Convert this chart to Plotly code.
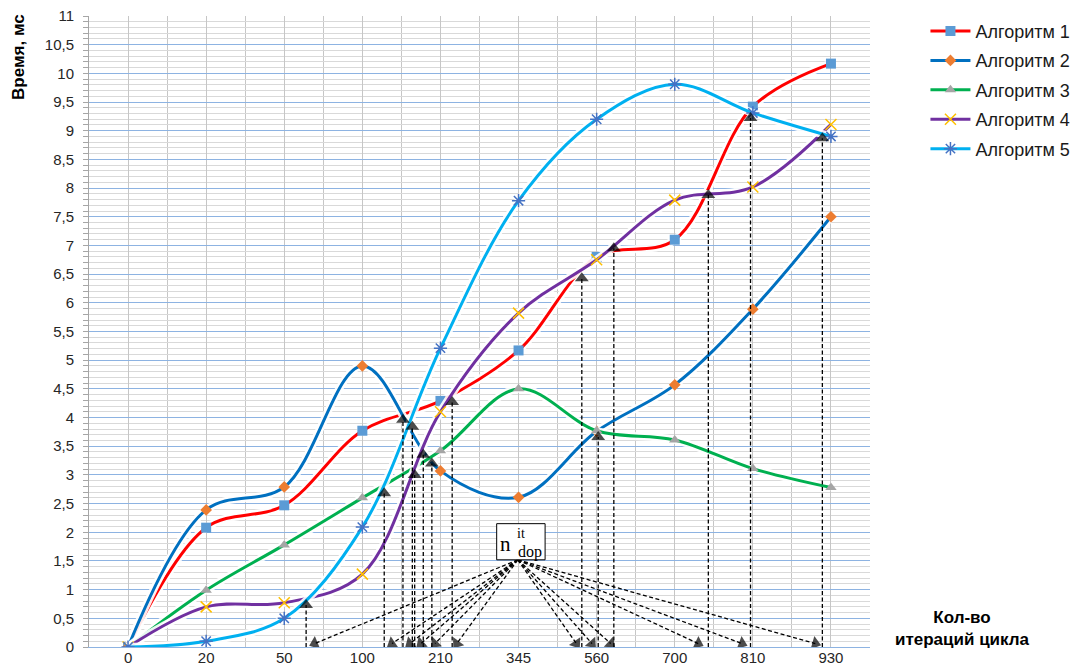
import math
import plotly.graph_objects as go

# ---------------- data ----------------
categories = ["0", "20", "50", "100", "210", "345", "560", "700", "810", "930"]
alg1 = [0, 2.08, 2.47, 3.77, 4.29, 5.17, 6.80, 7.10, 9.42, 10.17]
alg2 = [0, 2.39, 2.79, 4.90, 3.07, 2.61, 3.76, 4.57, 5.89, 7.50]
alg3 = [0, 0.99, 1.78, 2.60, 3.42, 4.50, 3.77, 3.61, 3.11, 2.78]
alg4 = [0, 0.70, 0.77, 1.27, 4.10, 5.82, 6.75, 7.79, 8.02, 9.11]
alg5 = [0, 0.10, 0.50, 2.09, 5.21, 7.78, 9.20, 9.81, 9.31, 8.90]
names = ["Алгоритм 1", "Алгоритм 2", "Алгоритм 3", "Алгоритм 4", "Алгоритм 5"]

y_tick_vals = [0, 0.5, 1, 1.5, 2, 2.5, 3, 3.5, 4, 4.5, 5, 5.5, 6, 6.5, 7, 7.5, 8, 8.5, 9, 9.5, 10, 10.5, 11]
y_tick_text = ["0", "0,5", "1", "1,5", "2", "2,5", "3", "3,5", "4", "4,5", "5", "5,5", "6", "6,5",
               "7", "7,5", "8", "8,5", "9", "9,5", "10", "10,5", "11"]

# intersection points (x in category units, y in ms) marked with vertical dashed arrows
cross_x = [2.28, 3.28, 3.52, 3.64, 3.67, 3.78, 3.89, 4.15, 5.81, 6.02, 6.22, 7.43, 7.97, 8.89]
cross_y = [0.73, 2.68, 3.96, 3.84, 3.00, 3.35, 3.20, 4.27, 6.43, 3.66, 6.95, 7.88, 9.22, 8.87]

# targets on the axis of the arrows drawn from the n_dop label
ndop_x = [2.39, 3.38, 3.61, 3.75, 3.93, 4.21, 5.74, 5.94, 6.18, 7.30, 7.86, 8.80]
ndop_y = [0.06] * len(ndop_x)
ndop_origin = (4.99, 1.52)

# ---------------- styles ----------------
W, H = 1076, 667
M_L, M_R, M_T, M_B = 89, 206, 16, 20
X_RANGE = (-0.5, 9.5)
Y_RANGE = (0, 11)
px_per_x = (W - M_L - M_R) / (X_RANGE[1] - X_RANGE[0])
px_per_y = (H - M_T - M_B) / (Y_RANGE[1] - Y_RANGE[0])

line_colors = ["#ff0000", "#0070c0", "#00b050", "#7030a0", "#00b0f0"]
marker_styles = [
    dict(symbol="square", size=10, color="#5b9bd5"),
    dict(symbol="diamond", size=9, color="#ed7d31"),
    dict(symbol="triangle-up", size=10, color="#a5a5a5"),
    dict(symbol="x-thin-open", size=11, color="#ffc000", line=dict(color="#ffc000", width=1.5)),
    dict(symbol="asterisk-open", size=11, color="#4472c4", line=dict(color="#4472c4", width=1.5)),
]

x_idx = list(range(len(categories)))
series = [alg1, alg2, alg3, alg4, alg5]

fig = go.Figure()

for i, ys in enumerate(series):
    fig.add_trace(go.Scatter(
        x=x_idx, y=ys, mode="lines",
        line=dict(color="rgba(255,255,255,0.9)", width=8, shape="spline", smoothing=1.0),
        hoverinfo="skip", showlegend=False))
    fig.add_trace(go.Scatter(
        x=x_idx, y=ys, mode="lines+markers", name=names[i],
        legendgroup=names[i],
        line=dict(color=line_colors[i], width=3, shape="spline", smoothing=1.0),
        marker=marker_styles[i]))

arrow_line = dict(color="#000000", width=1.3, dash="4px,2.5px")


def add_arrow(x0, y0, x1, y1):
    ang = math.degrees(math.atan2((x1 - x0) * px_per_x, (y1 - y0) * px_per_y))
    fig.add_trace(go.Scatter(
        x=[x0, x1], y=[y0, y1], mode="lines+markers",
        line=arrow_line,
        marker=dict(symbol="triangle-up", size=[0, 12], color="#000000",
                    angle=[0, ang], line=dict(width=0)),
        hoverinfo="skip", showlegend=False))


for cx, cy in zip(cross_x, cross_y):
    add_arrow(cx, 0, cx, cy)

for tx, ty in zip(ndop_x, ndop_y):
    add_arrow(ndop_origin[0], ndop_origin[1], tx, ty)

# ---------------- layout ----------------
grid_gray = "#c6c6c6"
fig.update_layout(
    width=W, height=H,
    margin=dict(l=M_L, r=M_R, t=M_T, b=M_B, autoexpand=False),
    paper_bgcolor="white", plot_bgcolor="white",
    font=dict(family="Liberation Sans, Arial, sans-serif", size=15, color="#262626"),
    showlegend=True,
    legend=dict(x=1.071, y=1.005, xanchor="left", yanchor="top",
                font=dict(size=18, color="#1a1a1a"),
                itemwidth=40, tracegroupgap=3, traceorder="grouped",
                bgcolor="rgba(0,0,0,0)"),
    xaxis=dict(range=list(X_RANGE), tickmode="array", tickvals=x_idx, ticktext=categories,
               automargin=False,
               showgrid=True, gridcolor=grid_gray, gridwidth=1.3,
               showline=True, linecolor="#8db3e2", linewidth=1,
               ticks="", zeroline=False, ticklabelstandoff=-3,
               tickfont=dict(size=15, color="#262626"),
               minor=dict(tickvals=[i + 0.5 for i in range(-1, 10)], showgrid=True,
                          gridcolor=grid_gray, gridwidth=1.3)),
    yaxis=dict(range=list(Y_RANGE), tickmode="array", tickvals=y_tick_vals, ticktext=y_tick_text,
               automargin=False,
               showgrid=True, gridcolor="#8db3e2", gridwidth=1.2,
               showline=True, linecolor="#a6a6a6", linewidth=1,
               ticks="outside", ticklen=5, tickcolor="#a6a6a6",
               ticklabelstandoff=6, zeroline=False,
               tickfont=dict(size=15, color="#262626"),
               minor=dict(dtick=0.1, showgrid=True, gridcolor="#d9d9d9", gridwidth=1,
                          ticks="outside", ticklen=5, tickcolor="#a6a6a6")),
)

# axis titles
fig.add_annotation(xref="paper", yref="paper", x=-0.091, y=0.935, textangle=-90,
                   xanchor="center", yanchor="middle",
                   text="<b>Время, мс</b>", showarrow=False,
                   font=dict(size=17, color="#000000"))
fig.add_annotation(xref="paper", yref="paper", x=1.118, y=0.03,
                   xanchor="center", yanchor="middle",
                   text="<b>Кол-во<br>итераций цикла</b>", showarrow=False,
                   font=dict(size=17, color="#000000"))

# n_dop label box
fig.add_shape(type="rect", xref="x", yref="y", x0=4.72, x1=5.34, y0=1.52, y1=2.15,
              fillcolor="white", line=dict(color="#000000", width=1), layer="above")
fig.add_annotation(xref="x", yref="y", x=4.83, y=1.79, text="n", showarrow=False,
                   xanchor="center", yanchor="middle", borderpad=0,
                   font=dict(family="Liberation Serif, serif", size=21, color="#000000"))
fig.add_annotation(xref="x", yref="y", x=5.03, y=1.97, text="it", showarrow=False,
                   xanchor="center", yanchor="middle", borderpad=0,
                   font=dict(family="Liberation Serif, serif", size=14, color="#000000"))
fig.add_annotation(xref="x", yref="y", x=5.15, y=1.65, text="dop", showarrow=False,
                   xanchor="center", yanchor="middle", borderpad=0,
                   font=dict(family="Liberation Serif, serif", size=16, color="#000000"))

fig.write_html("out.html", config={"displayModeBar": False},
               post_script="document.body.style.margin='0px';")
